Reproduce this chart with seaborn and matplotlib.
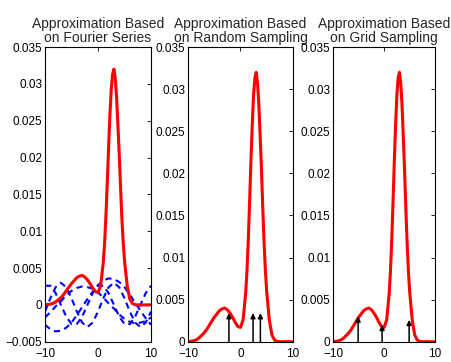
import numpy as np
import pandas as pd
import matplotlib
matplotlib.use("Agg")
import matplotlib.pyplot as plt
import seaborn as sns

# density curve
x_red = [-10, -9.5, -9, -8.5, -8, -7.5, -7, -6.5, -6, -5.5, -5, -4.5, -4, -3.5, -3,
         -2.5, -2, -1.5, -1, -0.5, 0, 0.5, 1, 1.25, 1.5, 1.75, 2, 2.25, 2.5, 2.75,
         3, 3.25, 3.5, 3.75, 4, 4.25, 4.5, 4.75, 5, 5.5, 6, 6.5, 7, 7.5, 8, 9, 10]
y_red = [0.00002, 0.00005, 0.0001, 0.0002, 0.0004, 0.0007, 0.0010, 0.0014, 0.0019,
         0.0024, 0.0029, 0.0033, 0.0037, 0.0039, 0.0040, 0.0038, 0.0034, 0.0029,
         0.0023, 0.0018, 0.0017, 0.0026, 0.0058, 0.0085, 0.0122, 0.0167, 0.0215,
         0.0258, 0.0293, 0.0313, 0.0320, 0.0308, 0.0282, 0.0245, 0.0205, 0.0160,
         0.0118, 0.0085, 0.0060, 0.0026, 0.0008, 0.0002, 0.00003, 0, 0, 0, 0]

# Fourier components (dashed blue)
x_blue = list(range(-10, 11))
fourier_1 = [-0.0027, -0.0033, -0.0036, -0.0035, -0.0031, -0.0024, -0.0014, -0.0003,
             0.0008, 0.0018, 0.0027, 0.0033, 0.0036, 0.0035, 0.0031, 0.0024, 0.0014,
             0.0003, -0.0008, -0.0018, -0.0027]
fourier_2 = [-0.0009, 0.0009, 0.0024, 0.0030, 0.0024, 0.0009, -0.0009, -0.0024,
             -0.0030, -0.0024, -0.0009, 0.0009, 0.0024, 0.0030, 0.0024, 0.0009,
             -0.0009, -0.0024, -0.0030, -0.0024, -0.0009]
fourier_3 = [0.0026, 0.0026, 0.0016, 0.0, -0.0016, -0.0026, -0.0026, -0.0016, 0.0,
             0.0016, 0.0026, 0.0026, 0.0016, 0.0, -0.0016, -0.0026, -0.0026, -0.0016,
             0.0, 0.0016, 0.0026]
fourier_4 = [-0.0017, -0.0010, -0.0002, 0.0005, 0.0013, 0.0019, 0.0023, 0.0025, 0.0024,
             0.0022, 0.0017, 0.0010, 0.0002, -0.0005, -0.0013, -0.0019, -0.0023,
             -0.0025, -0.0024, -0.0022, -0.0017]

# sample arrows
random_x = [-2.2, 2.4, 3.8]
random_h = [0.0034, 0.0034, 0.0034]
grid_x = [-5.1, -0.4, 4.9]
grid_h = [0.0030, 0.0020, 0.0026]

titles = ["Approximation Based\non Fourier Series",
          "Approximation Based\non Random Sampling",
          "Approximation Based\non Grid Sampling"]
x_ticks = [-10, 0, 10]
y_ticks_1 = [-0.005, 0, 0.005, 0.01, 0.015, 0.02, 0.025, 0.03, 0.035]
y_ticks_2 = [0, 0.005, 0.01, 0.015, 0.02, 0.025, 0.03, 0.035]

sns.set_style("white")
plt.rcParams["font.family"] = ["Liberation Sans", "DejaVu Sans"]
plt.rcParams["axes.unicode_minus"] = True

fig = plt.figure(figsize=(4.52, 3.62), dpi=100)
bottom, height = 0.056, 0.814
axes = [fig.add_axes([0.0996, bottom, 0.2345, height]),
        fig.add_axes([0.416, bottom, 0.232, height]),
        fig.add_axes([0.737, bottom, 0.2257, height])]

red = pd.DataFrame({"x": x_red, "y": y_red})
blue = pd.DataFrame({"x": x_blue, "f1": fourier_1, "f2": fourier_2,
                     "f3": fourier_3, "f4": fourier_4})


def fmt(v):
    return f"{v:g}".replace("-", "\u2212")


for i, ax in enumerate(axes):
    if i == 0:
        for col in ["f1", "f2", "f3", "f4"]:
            sns.lineplot(data=blue, x="x", y=col, ax=ax, color="#0000ff",
                         linestyle="--", linewidth=1.5, sort=False)
            ax.lines[-1].set_dashes([3, 2.2])
    sns.lineplot(data=red, x="x", y="y", ax=ax, color="#ff0000", linewidth=2.2, sort=False)

    if i == 1:
        for xs, hs in zip(random_x, random_h):
            ax.annotate("", xy=(xs, hs), xytext=(xs, 0),
                        arrowprops=dict(arrowstyle="-|>", color="k", lw=1.1,
                                        mutation_scale=7, shrinkA=0, shrinkB=0))
    if i == 2:
        for xs, hs in zip(grid_x, grid_h):
            ax.annotate("", xy=(xs, hs), xytext=(xs, 0),
                        arrowprops=dict(arrowstyle="-|>", color="k", lw=1.1,
                                        mutation_scale=7, shrinkA=0, shrinkB=0))

    yt = y_ticks_1 if i == 0 else y_ticks_2
    ax.set_xlim(-10, 10)
    ax.set_ylim(yt[0], yt[-1])
    ax.set_xticks(x_ticks)
    ax.set_xticklabels([fmt(v) for v in x_ticks])
    ax.set_yticks(yt)
    ax.set_yticklabels([fmt(v) for v in yt])
    ax.set_xlabel("")
    ax.set_ylabel("")
    ax.tick_params(direction="in", length=3, width=0.6, top=True, right=True,
                   labelsize=8.5, pad=2, colors="k")
    ax.tick_params(axis="x", pad=4.5)
    for s in ax.spines.values():
        s.set_visible(True)
        s.set_color("k")
        s.set_linewidth(0.8)
    ax.set_title(titles[i], fontsize=10, pad=4, linespacing=1.0)

fig.savefig("out.png", dpi=100)
